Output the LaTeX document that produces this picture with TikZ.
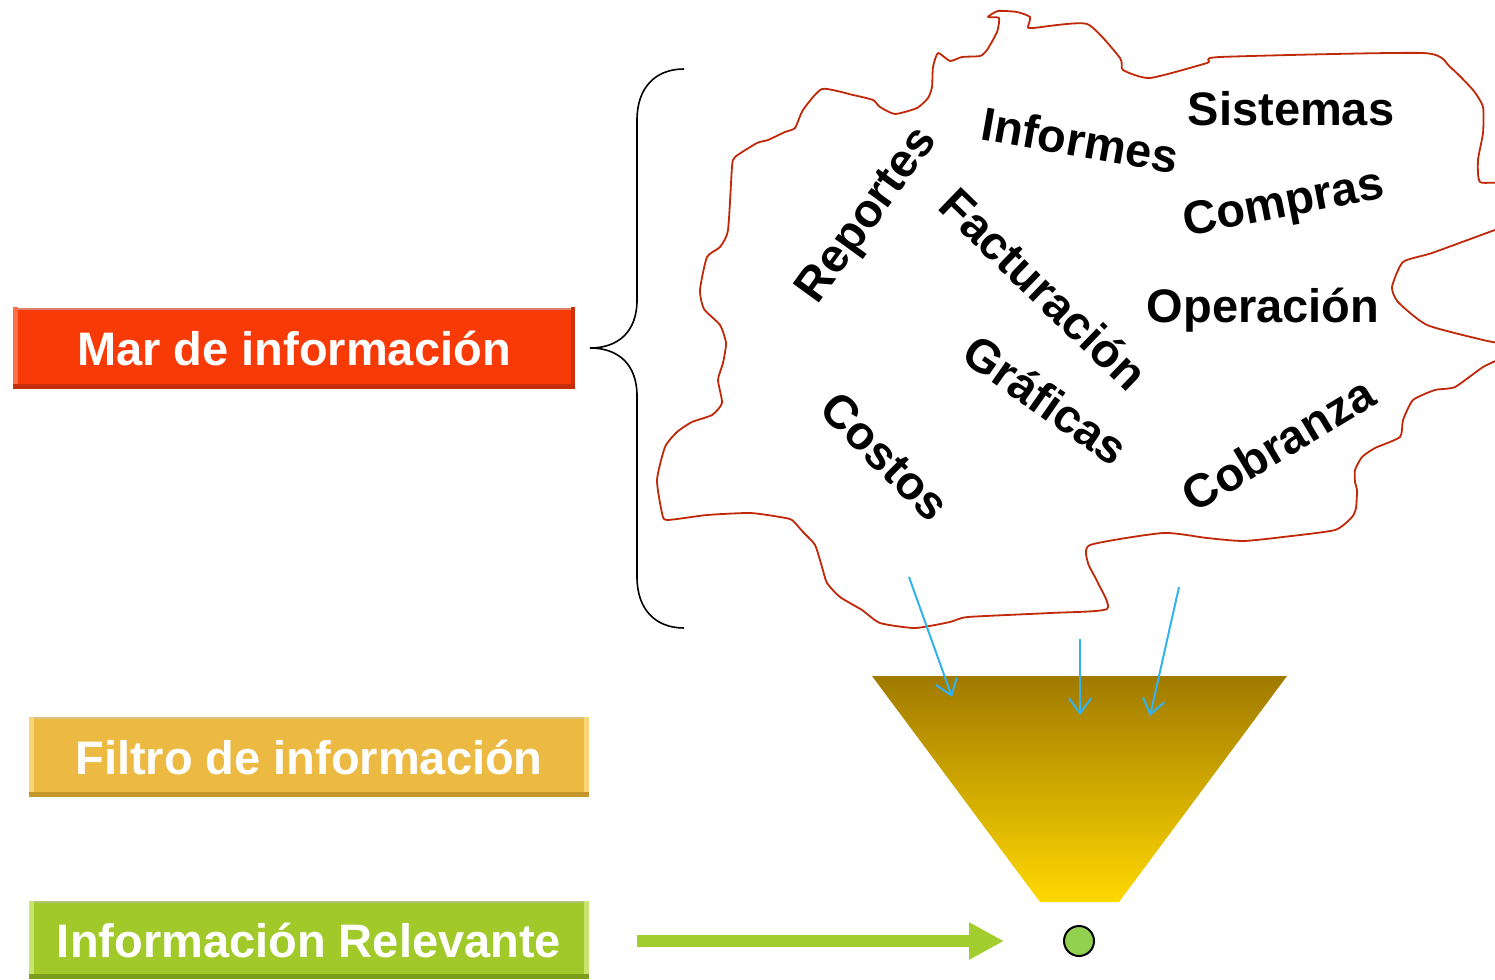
\documentclass[tikz,border=0pt]{standalone}
\usepackage{fontspec}
\setmainfont{Liberation Sans}
\usetikzlibrary{arrows.meta,shapes.geometric}
\definecolor{marfill}{RGB}{248,58,6}
\definecolor{mardark}{RGB}{196,46,8}
\definecolor{marlight}{RGB}{255,110,70}
\definecolor{filfill}{RGB}{236,186,66}
\definecolor{fildark}{RGB}{196,150,44}
\definecolor{fillight}{RGB}{248,214,120}
\definecolor{relfill}{RGB}{161,201,42}
\definecolor{reldark}{RGB}{124,158,28}
\definecolor{rellight}{RGB}{200,228,110}
\definecolor{cloudred}{RGB}{192,40,8}
\definecolor{arrowblue}{RGB}{51,178,240}
\definecolor{funtop}{RGB}{160,122,0}
\definecolor{funbot}{RGB}{255,216,0}
\definecolor{greenarrow}{RGB}{162,205,46}
\definecolor{dotgreen}{RGB}{146,208,80}
\tikzset{
  mainbox/.style={draw=none, inner sep=0pt, minimum width=560pt,
    text height=34pt, text depth=0pt, text=white,
    font=\fontsize{47}{50}\selectfont\bfseries},
  bevel/.style 2 args={fill=#1, path picture={
      \fill[#2] (path picture bounding box.south west) rectangle
        ([yshift=5pt]path picture bounding box.south east);
      \fill[#2!60!white] (path picture bounding box.north west) rectangle
        ([yshift=-2pt]path picture bounding box.north east);
    }},
  cloudword/.style={inner sep=0pt, text height=34pt, text depth=0pt,
    font=\fontsize{47}{50}\selectfont\bfseries, text=black},
  bluearrow/.style={draw=arrowblue, line width=2pt,
    -{Straight Barb[length=15pt,width=22pt,line width=2pt]}},
}
\begin{document}
\begin{tikzpicture}[x=1pt,y=-1pt]
\useasboundingbox (0,0) rectangle (1495,979);

% left boxes
\node[mainbox, bevel={marfill}{mardark}, minimum width=562pt, minimum height=81pt] (mar) at (294,348) {Mar de información};
\node[mainbox, bevel={filfill}{fildark}, minimum height=80pt] (filtro) at (309,757) {Filtro de información};
\node[mainbox, bevel={relfill}{reldark}, minimum height=78pt] (relev) at (309,940) {Información Relevante};
% side bevels
\fill[marlight] (mar.north west) rectangle ([xshift=5pt,yshift=5pt]mar.south west);
\fill[mardark!80!marfill] ([xshift=-4pt]mar.north east) rectangle ([yshift=5pt]mar.south east);
\fill[fillight] (filtro.north west) rectangle ([xshift=5pt,yshift=5pt]filtro.south west);
\fill[fillight] ([xshift=-5pt]filtro.north east) rectangle ([yshift=5pt]filtro.south east);
\fill[rellight] (relev.north west) rectangle ([xshift=5pt,yshift=5pt]relev.south west);
\fill[rellight] ([xshift=-5pt]relev.north east) rectangle ([yshift=5pt]relev.south east);

% brace
\coordinate (btop) at (684,69);
\coordinate (bbot) at (684,628);
\coordinate (btip) at (590,348);
\draw[line width=1.6pt, black]
  (btop) .. controls (655,69) and (637,88) .. (637,120)
  -- (637,300) .. controls (637,332) and (618,348) .. (btip)
  .. controls (618,348) and (637,364) .. (637,396)
  -- (637,577) .. controls (637,609) and (655,628) .. (bbot);

% cloud
\begin{scope}
\clip (0,0) rectangle (1495,979);
\draw[cloudred, line width=1.8pt, line join=round] plot[smooth cycle, tension=0.35] coordinates {
(988,17) (998,11) (1017,12) (1030,17) (1028,27) (1033,28) (1087,24)
(1120,58) (1123,70) (1150,78) (1207,63) (1220,57) (1423,53) (1450,67)
(1473,90) (1483,107) (1483,133) (1478,160) (1480,182) (1505,185)
(1505,228) (1495,230) (1432,253) (1403,262) (1392,287) (1398,302)
(1427,325) (1483,340) (1505,345) (1505,356) (1483,367) (1455,387)
(1435,390) (1413,400) (1403,420) (1400,437) (1375,448) (1362,457)
(1355,470) (1355,482) (1357,490) (1356,508) (1352,517) (1335,530)
(1283,537) (1243,541) (1207,538) (1163,533) (1090,545) (1088,563)
(1098,583) (1107,609) (1050,613) (968,617) (950,622) (915,628)
(880,623) (862,610) (840,597) (827,583) (822,567) (815,545) (803,532)
(792,520) (780,517) (750,513) (707,515) (667,520) (662,513) (657,480)
(665,447) (677,432) (692,422) (712,415) (722,403) (718,380) (723,363)
(726,343) (720,325) (704,309) (700,290) (707,257) (720,247) (728,230)
(732,167) (735,157) (757,143) (768,140) (785,132) (795,128) (803,110)
(822,89) (853,95) (873,100) (880,107) (895,114) (917,108) (928,98)
(932,87) (933,67) (938,53) (950,61) (962,57) (980,56) (987,50)
(997,32) (999,18)
};
\end{scope}

% cloud words
\node[cloudword, anchor=base] (sistemas) at (1291,125) {Sistemas};
\node[cloudword, anchor=base] (operacion) at (1263,322) {Operación};
\node[cloudword, rotate=54] (reportes) at (864,213) {Reportes};
\node[cloudword, rotate=-10] (informes) at (1080,140) {Informes};
\node[cloudword, rotate=11] (compras) at (1283,200) {Compras};
\node[cloudword, rotate=-44] (facturacion) at (1044,289) {Facturación};
\node[cloudword, rotate=-35] (graficas) at (1046,400) {Gráficas};
\node[cloudword, rotate=-45] (costos) at (886,456) {Costos};
\node[cloudword, rotate=31] (cobranza) at (1278,444) {Cobranza};

% funnel
\coordinate (ftl) at (872,676);
\coordinate (ftr) at (1287,676);
\coordinate (fbr) at (1119,902);
\coordinate (fbl) at (1040,902);
\shade[top color=funtop, bottom color=funbot] (ftl) -- (ftr) -- (fbr) -- (fbl) -- cycle;

% blue arrows
\coordinate (a1s) at (909,577);
\coordinate (a1e) at (952,697);
\coordinate (a2s) at (1080,639);
\coordinate (a2e) at (1080,715);
\coordinate (a3s) at (1179,587);
\coordinate (a3e) at (1150,716);
\draw[bluearrow] (a1s) -- (a1e);
\draw[bluearrow] (a2s) -- (a2e);
\draw[bluearrow] (a3s) -- (a3e);

% result dot and green arrow
\node[circle, draw=black, line width=2pt, fill=dotgreen, minimum size=30pt, inner sep=0pt] (dot) at (1079,941) {};
\coordinate (gstart) at (637,941);
\draw[greenarrow, line width=12pt, -{Triangle[length=35pt,width=35pt]}] (gstart) -- ([xshift=-59pt]dot.west);
\end{tikzpicture}
\end{document}
